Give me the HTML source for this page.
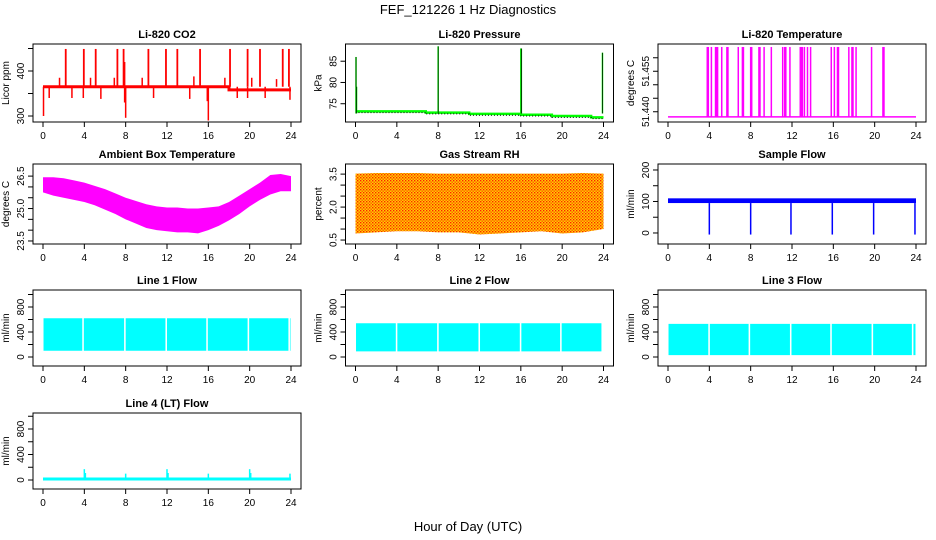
<!DOCTYPE html>
<html><head><meta charset="utf-8"><style>
html,body{margin:0;padding:0;background:#fff}
svg{display:block;font-family:"Liberation Sans",sans-serif}
</style></head><body>
<svg id="chart" width="936" height="540" viewBox="0 0 936 540" xmlns="http://www.w3.org/2000/svg">
<defs>
<pattern id="rhpat" width="3" height="3" patternUnits="userSpaceOnUse">
<rect width="3" height="3" fill="#ffd000"/><rect x="0" y="0" width="1.4" height="1.4" fill="#ff2000"/><rect x="1.5" y="1.5" width="1.4" height="1.4" fill="#ff5000"/>
</pattern>
</defs>
<text x="468" y="14" text-anchor="middle" font-size="13">FEF_121226  1 Hz Diagnostics</text>
<text x="468" y="531" text-anchor="middle" font-size="13">Hour of Day (UTC)</text>
</svg>
<script>
// ---------- data ----------
const hoursTicks = [0,4,8,12,16,20,24];
const co2Base = [[0,365],[18,365],[18,358],[24,358]];
const co2SpikeTimes = [2.2,3.95,5.1,7.2,7.8,10.2,11.9,13.0,15.2,18.1,19.8,21.0,23.2,23.8];
const co2SpikeVals = [449,449,449,449,449,449,449,449,449,449,449,449,449,449];
const co2SmallTimes = [1.6,4.6,6.9,7.9,9.6,14.6,17.6,20.2,22.6];
const co2SmallVals = [385,385,385,420,385,388,385,385,382];
const co2DipTimes = [0.05,8.0,16.0,0.6,2.8,3.9,5.6,7.9,10.7,14.2,15.9,18.8,19.8,21.5,23.9];
const co2DipVals = [300,296,290,340,340,340,338,330,340,338,333,340,340,340,336];
const presTimes = [0,6.8,6.8,11,11,16,16,19,19,22.8,22.8,24];
const presVals = [73.2,73.2,72.9,72.9,72.6,72.6,72.4,72.4,72.1,72.1,71.8,71.8];
const presSpikeTimes = [0.05,0.1,8.0,16.0,16.05,23.9];
const presSpikeVals = [86,79,88.5,88,88,87];
const tempBase = 51.4331;
const tempSpikeTimes = [3.8,3.9,4.2,4.6,4.7,4.8,5.2,5.7,5.8,6.8,7.2,7.3,8.0,8.1,8.8,8.9,9.3,10.0,11.1,11.3,11.4,11.8,12.8,12.9,13.0,13.2,13.5,13.8,15.8,16.1,16.4,16.5,17.5,17.8,17.9,18.2,19.7,20.8,20.9];
const tempSpikeTop = 51.459;
const ambHours = [0,1,2,3,4,5,6,7,8,9,10,11,12,13,14,15,16,17,18,19,20,21,22,23,24];
const ambHi = [26.45,26.45,26.4,26.3,26.2,26.05,25.9,25.7,25.5,25.35,25.2,25.1,25.05,25.05,25.0,25.0,25.05,25.1,25.3,25.6,25.9,26.2,26.55,26.6,26.5];
const ambLo = [25.75,25.6,25.5,25.4,25.3,25.15,24.95,24.75,24.5,24.3,24.1,24.0,23.95,23.9,23.9,23.85,24.0,24.2,24.45,24.75,25.1,25.4,25.65,25.8,25.8];
const rhHours = [0,2,4,6,8,10,12,14,16,18,20,22,24];
const rhHi = [3.52,3.55,3.55,3.55,3.52,3.52,3.52,3.52,3.52,3.52,3.52,3.55,3.52];
const rhLo = [0.8,0.85,0.9,0.9,0.85,0.85,0.75,0.8,0.85,0.9,0.8,0.85,1.0];
const sfHi = 110, sfLo = 95;
const sfDipTimes = [4.0,8.0,11.9,15.9,19.9,23.9];
const sfDipVals = [-5,-5,-5,-5,-5,-5];
const l1Lo = 100, l1Hi = 620, l1Gaps = [3.8,7.85,11.85,15.8,19.8,23.75];
const l2Lo = 90, l2Hi = 540, l2Gaps = [3.9,7.9,11.9,15.9,19.8,23.8];
const l3Lo = 30, l3Hi = 530, l3Gaps = [3.9,7.8,11.8,15.7,19.7,23.6];
const l4Base = 15;
const l4SpikeTimes = [4.0,4.1,8.0,12.0,12.1,16.0,20.0,20.1,23.9];
const l4SpikeVals = [170,110,100,170,110,100,170,110,100];

// ---------- helpers ----------
const svg = document.getElementById('chart');
const NS = 'http://www.w3.org/2000/svg';
function mk(tag, attrs, parent){const e=document.createElementNS(NS,tag);for(const k in attrs)e.setAttribute(k,attrs[k]);(parent||svg).appendChild(e);return e;}
const rowTop=[44,164,290,413], rowBot=[122,244,366,489];
function panel(c,r,title,ylab,ymin,ymax,yticks,ylabels){
  const L=33+c*312.5, R=L+268, T=rowTop[r], B=rowBot[r];
  const g=mk('g',{});
  
  
  const x=h=>L+10+h*(R-L-20)/24;
  const y=v=>B-(v-ymin)*(B-T)/(ymax-ymin);
  const t=mk('text',{x:(L+R)/2,y:T-6,'text-anchor':'middle','font-size':'11','font-weight':'bold'},g);
  t.textContent=title;
  
  
  const marks=mk('g',{},g);
  
  
  const box=mk('rect',{x:L,y:T,width:R-L,height:B-T,fill:'none',stroke:'#000','stroke-width':1},g);
  
  
  const ax=mk('g',{},g);
  
  
  mk('line',{x1:x(0),x2:x(24),y1:B,y2:B,stroke:'#000'},ax);
  hoursTicks.forEach(h=>{mk('line',{x1:x(h),x2:x(h),y1:B,y2:B+5,stroke:'#000'},ax);
    const tl=mk('text',{x:x(h),y:B+17,'text-anchor':'middle','font-size':'10'},ax);tl.textContent=h;});
  const ay=mk('g',{},g);
  
  
  mk('line',{x1:L,x2:L,y1:y(yticks[0]),y2:y(yticks[yticks.length-1]),stroke:'#000'},ay);
  yticks.forEach((v,i)=>{mk('line',{x1:L-5,x2:L,y1:y(v),y2:y(v),stroke:'#000'},ay);
    if(ylabels[i]){const tl=mk('text',{x:0,y:0,'text-anchor':'middle','font-size':'10',transform:`translate(${L-9},${y(v)}) rotate(-90)`},ay);tl.textContent=ylabels[i];}});
  const yl=mk('text',{x:0,y:0,'text-anchor':'middle','font-size':'10',transform:`translate(${L-24},${(T+B)/2}) rotate(-90)`},ay);
  yl.textContent=ylab;
  
  
  return {x,y,g:marks};
}
function vline(p,h,v0,v1,col,w){mk('line',{x1:p.x(h),x2:p.x(h),y1:p.y(v0),y2:p.y(v1),stroke:col,'stroke-width':w||1.5},p.g);}
function poly(p,hs,vs,col,w,dash){mk('polyline',{points:hs.map((h,i)=>p.x(h)+','+p.y(vs[i])).join(' '),fill:'none',stroke:col,'stroke-width':w||1.5,'stroke-dasharray':dash||'none'},p.g);}
function band(p,hs,lo,hi,fill){const pts=hs.map((h,i)=>p.x(h)+','+p.y(hi[i])).concat(hs.slice().reverse().map((h,i)=>p.x(h)+','+p.y(lo[hs.length-1-i])));mk('polygon',{points:pts.join(' '),fill:fill,stroke:'none'},p.g);}
function gappedBand(p,lo,hi,gaps,col){let s=0.05;gaps.concat([24]).forEach(gp=>{const e=Math.min(gp,23.95);if(e>s)mk('rect',{x:p.x(s),y:p.y(hi),width:p.x(e)-p.x(s),height:p.y(lo)-p.y(hi),fill:col},p.g);s=gp+0.15;});}

// ---------- CO2 ----------
let p=panel(0,0,'Li-820 CO2','Licor ppm',286.7,460,[300,350,400,450],['300','','400','']);
co2SpikeTimes.forEach((h,i)=>vline(p,h,365,co2SpikeVals[i],'#f00',1.8));
co2SmallTimes.forEach((h,i)=>vline(p,h,365,co2SmallVals[i],'#f00',1.5));
co2DipTimes.forEach((h,i)=>vline(p,h,365,co2DipVals[i],'#f00',1.5));
poly(p,co2Base.map(d=>d[0]),co2Base.map(d=>d[1]),'#f00',3);

// ---------- Pressure ----------
p=panel(1,0,'Li-820 Pressure','kPa',70.7,89.05,[75,80,85],['75','80','85']);
poly(p,presTimes,presVals,'#0f0',2.5);
poly(p,presTimes,presVals.map(v=>v-0.3),'#000',1,'1,2');
presSpikeTimes.forEach((h,i)=>{vline(p,h,presVals[0]-0.5,presSpikeVals[i],'#0f0',1.5);vline(p,h,presVals[0]-0.5,presSpikeVals[i],'#000',0.7);});

// ---------- Li-820 Temperature ----------
p=panel(2,0,'Li-820 Temperature','degrees C',51.4312,51.4601,[51.435,51.440,51.445,51.450,51.455],['51.440','','','51.455','']);
tempSpikeTimes.forEach(h=>vline(p,h,tempBase,tempSpikeTop,'#f0f',1.5));
poly(p,[0,24],[tempBase,tempBase],'#f0f',1.5);

// ---------- Ambient ----------
p=panel(0,1,'Ambient Box Temperature','degrees C',23.36,27.06,[23.5,24,24.5,25,25.5,26,26.5],['23.5','','','25.0','','','26.5']);
band(p,ambHours,ambLo,ambHi,'#f0f');

// ---------- RH ----------
p=panel(1,1,'Gas Stream RH','percent',0.32,3.96,[0.5,1,1.5,2,2.5,3,3.5],['0.5','','','2.0','','','3.5']);
band(p,rhHours,rhLo,rhHi,'url(#rhpat)');

// ---------- Sample Flow ----------
p=panel(2,1,'Sample Flow','ml/min',-35,219,[0,50,100,150,200],['0','','100','','200']);
mk('rect',{x:p.x(0),y:p.y(sfHi),width:p.x(24)-p.x(0),height:p.y(sfLo)-p.y(sfHi),fill:'#00f'},p.g);
sfDipTimes.forEach((h,i)=>vline(p,h,sfLo,sfDipVals[i],'#00f',1.5));

// ---------- Line flows ----------
const ft=[0,200,400,600,800,1000], fl=['0','','400','','800',''];
p=panel(0,2,'Line 1 Flow','ml/min',-144,1072,ft,fl);
gappedBand(p,l1Lo,l1Hi,l1Gaps,'#0ff');
p=panel(1,2,'Line 2 Flow','ml/min',-144,1072,ft,fl);
gappedBand(p,l2Lo,l2Hi,l2Gaps,'#0ff');
p=panel(2,2,'Line 3 Flow','ml/min',-144,1072,ft,fl);
gappedBand(p,l3Lo,l3Hi,l3Gaps,'#0ff');
p=panel(0,3,'Line 4 (LT) Flow','ml/min',-141,1051,ft,fl);
poly(p,[0,24],[l4Base,l4Base],'#0ff',3);
l4SpikeTimes.forEach((h,i)=>vline(p,h,l4Base,l4SpikeVals[i],'#0ff',1.5));
</script>
</body></html>
